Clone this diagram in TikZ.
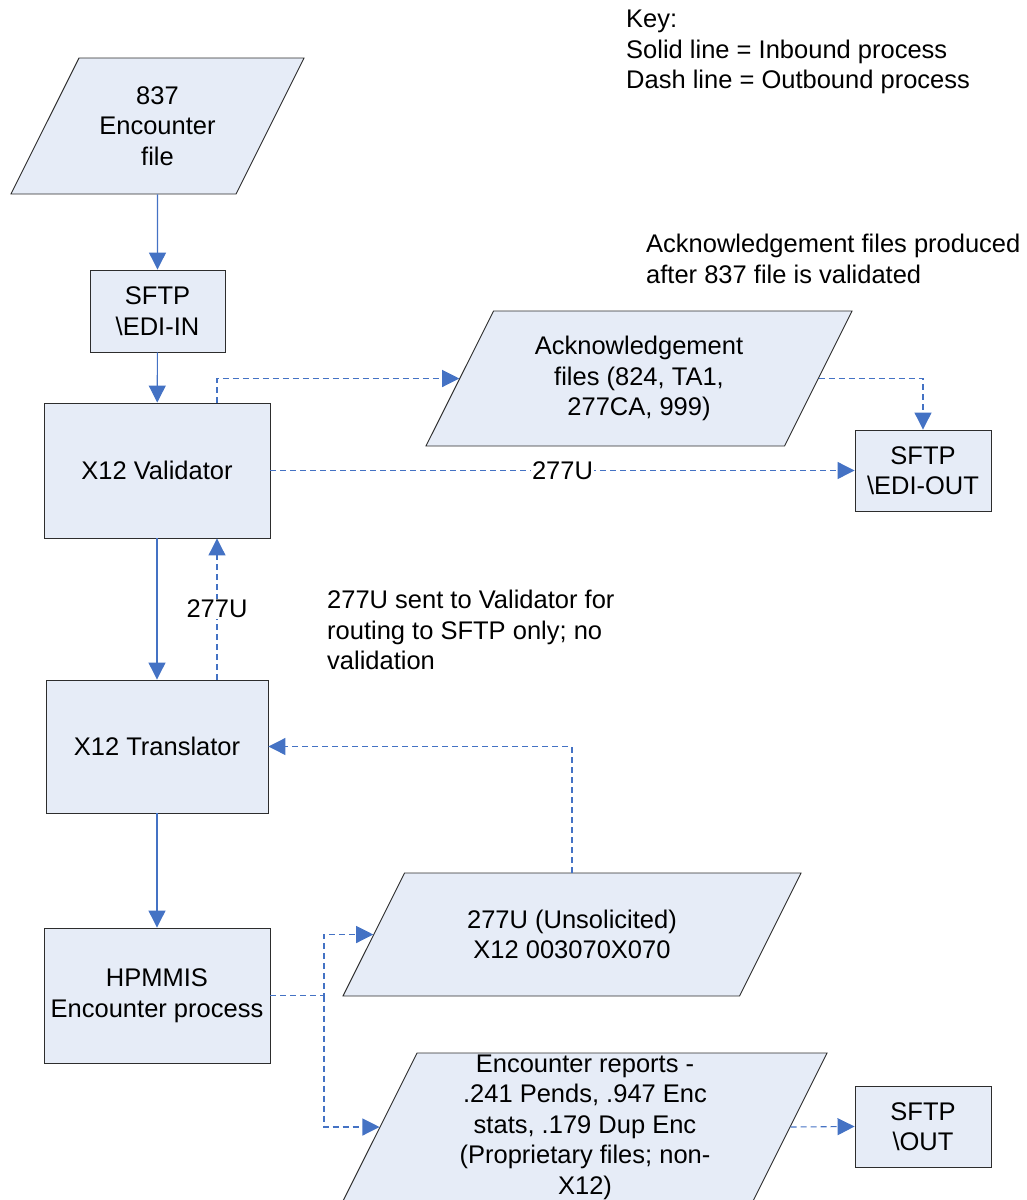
\documentclass[tikz,border=0pt]{standalone}
\usepackage{fontspec}
\setmainfont{Liberation Sans}
\usetikzlibrary{shapes.geometric,arrows.meta}
\definecolor{boxfill}{RGB}{230,236,247}
\definecolor{linkblue}{RGB}{68,114,196}
\definecolor{bordergray}{RGB}{45,45,45}
\tikzset{
  procbox/.style={draw=bordergray,fill=boxfill,line width=0.9pt,align=center,inner sep=0pt},
  % #1 = body width, #2 = half height
  databox/.style 2 args={trapezium,trapezium left angle=63.43,trapezium right angle=116.57,
    text width=#1,text height=#2,text depth=#2,
    draw=bordergray,fill=boxfill,line width=0.9pt,inner sep=0pt},
  inarrow/.style={color=linkblue,line width=1.1pt,-{Triangle[length=17pt,width=17pt]}},
  outarrow/.style={inarrow,dash pattern=on 6pt off 4pt},
  linklabel/.style={fill=white,text=black,inner sep=1pt},
  every label/.style={align=center,inner sep=0pt},
}
\begin{document}
\begin{tikzpicture}[x=1pt,y=-1pt,font=\fontsize{25.5}{30.5}\selectfont]
\useasboundingbox (0,0) rectangle (1026,1200);
% notes
\node[anchor=north west,align=left,inner sep=0pt] (key) at (626,10) {Key:\\Solid line = Inbound process\\Dash line = Outbound process};
\node[anchor=north west,align=left,inner sep=0pt] (acknote) at (646,234) {Acknowledgement files produced\\after 837 file is validated};
\node[anchor=north west,align=left,inner sep=0pt] (routenote) at (327,590) {277U sent to Validator for\\routing to SFTP only; no\\validation};
% inbound side
\node[databox={157pt}{68pt},label={center:{837\\Encounter\\file}}] (enc) at (157.5,126) {};
\node[procbox,minimum width=135pt,minimum height=82pt] (sftpin) at (157.5,311) {SFTP\\\textbackslash EDI-IN};
\node[procbox,minimum width=226pt,minimum height=135pt] (val) at (157,470.5) {X12 Validator};
\node[procbox,minimum width=222pt,minimum height=133pt] (tr) at (157,746.5) {X12 Translator};
\node[procbox,minimum width=226pt,minimum height=135pt] (hp) at (157,995.5) {HPMMIS\\Encounter process};
% outbound side
\node[databox={291pt}{67.5pt},label={center:{Acknowledgement\\files (824, TA1,\\277CA, 999)}}] (ack) at (639,378.5) {};
\node[procbox,minimum width=136pt,minimum height=81pt] (sftpout) at (923,470.5) {SFTP\\\textbackslash EDI-OUT};
\node[databox={335pt}{61.5pt},label={center:{277U (Unsolicited)\\X12 003070X070}}] (unsol) at (572,934.5) {};
\node[databox={336pt}{74pt},
  label={center:{Encounter reports -\\.241 Pends, .947 Enc\\stats, .179 Dup Enc\\(Proprietary files; non-\\X12)}}] (rep) at (585,1127) {};
\node[procbox,minimum width=136pt,minimum height=81pt] (sftp) at (923,1126.5) {SFTP\\\textbackslash OUT};
\coordinate (split) at (324,995.5);
% solid = inbound
\path [inarrow] (enc) edge (sftpin);
\path [inarrow] (sftpin) edge (val);
\path [inarrow] (val) edge (tr);
\path [inarrow] (tr) edge (hp);
% dashed = outbound
\draw [outarrow] ([xshift=60pt]tr.north) -- node[linklabel] {277U} ([xshift=60pt]val.south);
\draw [outarrow] ([xshift=60pt]val.north) |- (ack.west);
\draw [outarrow] (ack.east) -| (sftpout.north);
\draw [outarrow] (val.east) -- node[linklabel] {277U} (sftpout.west);
\draw [outarrow] (unsol.north) |- (tr.east);
\draw [outarrow] (hp.east) -- (split) |- (unsol.west);
\draw [outarrow] (split) |- (rep.west);
\draw [outarrow] (rep.east) -- (sftp.west);
\end{tikzpicture}
\end{document}
